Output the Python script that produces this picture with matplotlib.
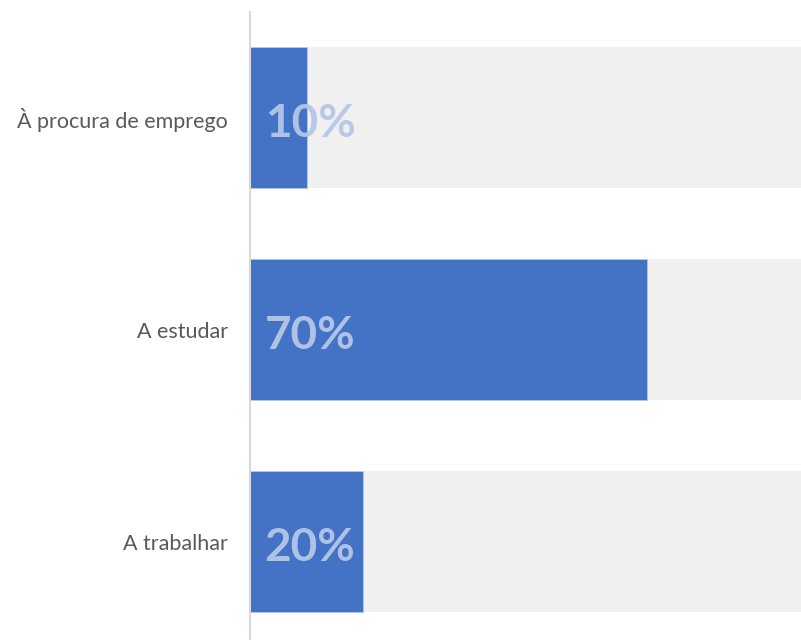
import matplotlib
matplotlib.use("Agg")
import matplotlib.pyplot as plt

categories = ["À procura de emprego", "A estudar", "A trabalhar"]
values = [0.10, 0.70, 0.20]
labels = ["10%", "70%", "20%"]
total = [1.0, 1.0, 1.0]

W, H = 801, 640
fig = plt.figure(figsize=(W / 100, H / 100), dpi=100)
# axes in pixel coords: left 250, right 817, top 12, bottom 647.5
ax = fig.add_axes([250 / W, -7.5 / H, (817 - 250) / W, (647.5 - 12) / H])

y = list(range(len(categories)))
ax.barh(y, total, height=0.665, color="#F0F0F0", zorder=1)
ax.barh(y, values, height=0.665, color="#4472C4", edgecolor="#B4C7E7", linewidth=0.6, zorder=2)

for yi, lab in zip(y, labels):
    ax.text(0.026, yi + 0.03, lab, ha="left", va="center", fontsize=33, fontweight="bold",
            family="Lato", color="#B4C7E7", alpha=0.95, zorder=3)

ax.set_xlim(0, 1.0)
ax.set_ylim(2.5, -0.5)
ax.set_yticks(y)
ax.set_yticklabels(categories, family="Lato", fontsize=15.5, color="#595959")
ax.tick_params(axis="y", length=0, pad=16)
ax.set_xticks([])
for s in ["top", "right", "bottom"]:
    ax.spines[s].set_visible(False)
ax.spines["left"].set_color("#D9D9D9")
ax.spines["left"].set_linewidth(1.5)
ax.spines["left"].set_zorder(4)

fig.savefig("out.png", dpi=100)
